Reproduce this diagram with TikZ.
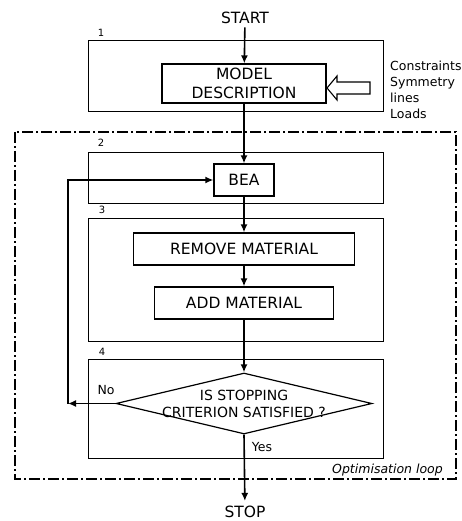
\documentclass[tikz,border=0pt]{standalone}
\usepackage{fontspec}
\setmainfont{DejaVu Sans}
\usetikzlibrary{shapes.geometric,arrows.meta}

\begin{document}
\begin{tikzpicture}[x=1pt,y=-1pt,
	box/.style={draw,line width=1.2pt,inner sep=0pt,minimum height=32pt,font=\fontsize{15.5}{19}\selectfont,align=center},
	zone/.style={draw,line width=0.8pt},
	flow/.style={line width=1.6pt,-{Latex[length=8pt,width=7pt]}},
	num/.style={font=\fontsize{10}{11}\selectfont,inner sep=0pt},
	side/.style={font=\fontsize{12.5}{16}\selectfont,inner sep=0pt}]
			\useasboundingbox (0,0) rectangle (462,521);
			
			\draw[line width=1.3pt,dash pattern=on 11pt off 3pt on 2pt off 3pt] (15,132) rectangle (456,479);
			\node (looplabel) [side,font=\fontsize{12.5}{16}\selectfont\itshape,anchor=east] at (443,470) {Optimisation loop};
			
			\draw[zone] (88,40) rectangle (383,111);
			\draw[zone] (88,152) rectangle (383,203);
			\draw[zone] (88,218) rectangle (383,341);
			\draw[zone] (88,359) rectangle (383,458);
			\node (n1) [num] at (101,33) {1};
			\node (n2) [num] at (101,143) {2};
			\node (n3) [num] at (102,210) {3};
			\node (n4) [num] at (102,352) {4};
			
			\node (start) [font=\fontsize{15.5}{17}\selectfont] at (245,18) {START};
			\node (model) [box,minimum width=164pt,minimum height=39pt] at (244,83.5) {MODEL\\DESCRIPTION};
			\node (bea) [box,minimum width=60pt] at (244,180) {BEA};
			\node (remove) [box,minimum width=221pt] at (244,249) {REMOVE MATERIAL};
			\node (add) [box,minimum width=179pt] at (244,303) {ADD MATERIAL};
			\node (crit) [draw,diamond,line width=1.2pt,inner sep=0pt,minimum width=256pt,minimum height=61pt] at (244,403.5) {};
			\node (crittext) [font=\fontsize{14}{17}\selectfont,align=center] at (244,403.5) {IS STOPPING\\CRITERION SATISFIED ?};
			\node (stop) [font=\fontsize{15.5}{17}\selectfont,inner sep=5pt] at (245,512) {STOP};
			
			\node (inputs) [side,align=left,anchor=north west] at (390,61) {Constraints\\Symmetry\\lines\\Loads};
			\coordinate (intip) at (327,88);
			\draw[line width=1.1pt] (intip) -- ++(10,-12) -- ++(0,6) -- ++(33,0) -- ++(0,12) -- ++(-33,0) -- ++(0,6) -- cycle;
			
			\draw[flow] (start) -- (model);
			\draw[flow] (model) -- (bea);
			\draw[flow] (bea) -- (remove);
			\draw[flow] (remove) -- (add);
			\draw[flow] (add) -- (crit.north);
			\draw[flow] (crit.south) -- (stop);
			\draw[flow] (crit.west) -- (68,403.5) coordinate (back);
			\draw[flow] (back) |- (bea.west);
			
			\node (no) [side] at (106,390) {No};
			\node (yes) [side] at (262,447) {Yes};
			\end{tikzpicture}
\end{document}
